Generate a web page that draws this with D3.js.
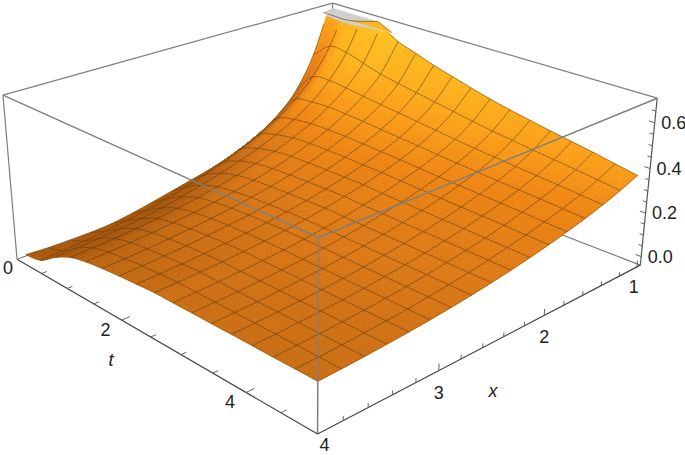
<!DOCTYPE html>
<html><head><meta charset="utf-8">
<style>html,body{margin:0;padding:0;background:#fff}svg{display:block}text{font-family:"Liberation Sans",Arial,sans-serif;fill:#222}</style>
<script src="https://cdn.jsdelivr.net/npm/d3@7"></script></head><body>
<svg id="c" width="685" height="455"></svg>
<script>
// Axis ticks and labels
const tDomain=[0,5], xDomain=[4,0.96], zDomain=[-0.04,0.705];
const tMinorTicks=[0.5,1,1.5,2,2.5,3,3.5,4,4.5];
const tLabels=[0,2,4];
const xMinorTicks=[1,1.2,1.4,1.6,1.8,2,2.2,2.4,2.6,2.8,3,3.2,3.4,3.6,3.8];
const xLabels=[1,2,3,4];
const zMinorTicks=[0,0.05,0.1,0.15,0.2,0.25,0.3,0.35,0.4,0.45,0.5,0.55,0.6,0.65];
const zLabels=[0,0.2,0.4,0.6];
const zClip=0.683;
// Extent of the meshed surface
const surfaceT=[0.2,5], surfaceX=[4,1.1];
// Surface heights at mesh nodes: rows t=0.2..5 (17 rows), columns x=4..1.1 (17 columns)
const surfaceZ=[
[.008,.002,0,.002,.008,.022,.04,.06,.08,.10,.125,.16,.205,.265,.355,.505,.74],
[.022,.028,.036,.046,.06,.075,.095,.118,.145,.175,.21,.25,.30,.365,.45,.575,.76],
[.075,.08,.087,.096,.108,.123,.142,.163,.187,.214,.244,.28,.325,.382,.46,.57,.74],
[.115,.12,.126,.134,.145,.158,.173,.191,.212,.236,.263,.296,.336,.387,.452,.545,.70],
[.135,.14,.146,.154,.164,.175,.188,.204,.223,.245,.271,.302,.338,.384,.44,.52,.65],
[.146,.151,.157,.165,.174,.185,.197,.212,.229,.25,.274,.303,.337,.378,.43,.503,.62],
[.154,.159,.165,.172,.181,.191,.202,.216,.232,.252,.275,.302,.333,.371,.42,.488,.59],
[.16,.165,.17,.177,.185,.194,.205,.219,.235,.254,.275,.30,.329,.364,.41,.473,.565],
[.166,.17,.175,.181,.188,.197,.208,.221,.237,.255,.275,.298,.325,.358,.40,.458,.54],
[.166,.17,.175,.181,.188,.197,.207,.22,.235,.252,.271,.294,.319,.35,.389,.443,.517],
[.167,.171,.175,.181,.188,.196,.207,.219,.233,.25,.268,.29,.314,.344,.38,.429,.497],
[.167,.171,.175,.181,.188,.196,.206,.218,.232,.248,.266,.286,.31,.338,.372,.418,.479],
[.168,.171,.176,.181,.187,.195,.205,.217,.231,.246,.263,.283,.306,.332,.364,.406,.462],
[.168,.171,.176,.181,.187,.195,.205,.216,.229,.244,.261,.28,.302,.327,.357,.396,.446],
[.168,.172,.176,.181,.187,.195,.204,.215,.228,.242,.258,.277,.298,.322,.35,.385,.43],
[.169,.172,.176,.181,.187,.194,.204,.214,.226,.24,.256,.273,.293,.316,.342,.374,.412],
[.169,.172,.176,.181,.187,.194,.203,.213,.225,.238,.253,.27,.289,.31,.334,.362,.395]
];
// Clipped top of the surface, as [t,x] on the clipping plane
const capOutline=[[.02,.97],[.84,.97],[.55,1.11],[.24,1.11],[.08,1.107]];
const capShoulder=[[.84,.97],[1.3,1.1],[.55,1.11]];
// Camera calibration: box corners in the picture, (u,v,w) unit-cube -> pixel
const cameraCorners=[
[0,0,0,17,259],[1,0,0,318,434],[1,1,0,640.5,265],[0,1,0,331,146],
[0,0,1,3,95],[1,0,1,318,238],[1,1,1,657,98],[0,1,1,333,3]];

const tS=d3.scaleLinear().domain(tDomain).range([0,1]);
const xS=d3.scaleLinear().domain(xDomain).range([0,1]);
const zS=d3.scaleLinear().domain(zDomain).range([0,1]);

function fitCamera(c){
  const n=11,A=d3.range(n).map(()=>new Array(n+1).fill(0));
  const add=(r,b)=>{for(let i=0;i<n;i++){for(let j=0;j<n;j++)A[i][j]+=r[i]*r[j];A[i][n]+=r[i]*b;}};
  c.forEach(([u,v,w,x,y])=>{
    add([u,v,w,1,0,0,0,0,-x*u,-x*v,-x*w],x);
    add([0,0,0,0,u,v,w,1,-y*u,-y*v,-y*w],y);
  });
  for(let i=0;i<n;i++){
    let p=i;for(let r=i+1;r<n;r++)if(Math.abs(A[r][i])>Math.abs(A[p][i]))p=r;
    [A[i],A[p]]=[A[p],A[i]];
    for(let r=0;r<n;r++)if(r!==i){const f=A[r][i]/A[i][i];for(let k=i;k<=n;k++)A[r][k]-=f*A[i][k];}
  }
  return d3.range(n).map(i=>A[i][n]/A[i][i]);
}
const P=fitCamera(cameraCorners);
function proj(u,v,w){const d=P[8]*u+P[9]*v+P[10]*w+1;
  return [(P[0]*u+P[1]*v+P[2]*w+P[3])/d,(P[4]*u+P[5]*v+P[6]*w+P[7])/d];}
const pt=(t,x,z)=>proj(tS(t),xS(x),zS(z));

// Smooth evaluation of the mesh-node table for drawing between nodes
const N=surfaceZ.length-1;
const g=(i,j)=>{
  if(i<0)return 2*g(0,j)-g(-i,j);
  if(i>N)return 2*g(N,j)-g(2*N-i,j);
  if(j<0)return 2*g(i,0)-g(i,-j);
  if(j>N)return 2*g(i,N)-g(i,2*N-j);
  return surfaceZ[i][j];};
const cr=(a,b,c,d,f)=>0.5*((2*b)+(-a+c)*f+(2*a-5*b+4*c-d)*f*f+(-a+3*b-3*c+d)*f*f*f);
function Z(si,sj){
  const i=Math.min(Math.floor(si),N-1),j=Math.min(Math.floor(sj),N-1),fi=si-i,fj=sj-j;
  const r=k=>cr(g(i+k,j-1),g(i+k,j),g(i+k,j+1),g(i+k,j+2),fj);
  return cr(r(-1),r(0),r(1),r(2),fi);
}
const ramp=d3.scaleLinear().domain([0,.35,.55,.75,1])
  .range(["#a8570c","#da7715","#ee8512","#fb9f18","#ffc422"]).clamp(true);
function shade(si,sj){
  const e=0.25,gu=(zS(Z(Math.min(si+e,N),sj))-zS(Z(Math.max(si-e,0),sj)))/((Math.min(si+e,N)-Math.max(si-e,0))/N);
  const gv=(zS(Z(si,Math.min(sj+e,N)))-zS(Z(si,Math.max(sj-e,0))))/((Math.min(sj+e,N)-Math.max(sj-e,0))/N);
  const n=Math.sqrt(1+gu*gu+gv*gv);
  return ramp(.14+.5*gv/n-.5*gu/n+.25*zS(Z(si,sj)));
}
const toT=si=>surfaceT[0]+(surfaceT[1]-surfaceT[0])*si/N;
const toX=sj=>surfaceX[0]+(surfaceX[1]-surfaceX[0])*sj/N;
const node=(si,sj)=>{const z=Z(si,sj);return{si,sj,z};};
const P2=n=>pt(toT(n.si),toX(n.sj),Math.min(n.z,zClip));

function clipPoly(poly,keepBelow){
  const inn=p=>keepBelow?p.z<=zClip:p.z>=zClip,out=[];
  poly.forEach((a,k)=>{const b=poly[(k+1)%poly.length];
    if(inn(a))out.push(a);
    if(inn(a)!==inn(b)){const f=(zClip-a.z)/(b.z-a.z);
      out.push({si:a.si+(b.si-a.si)*f,sj:a.sj+(b.sj-a.sj)*f,z:zClip});}
  });return out;
}
const svg=d3.select("#c");
const line=d3.line();
const seg=(a,b,color,w)=>svg.append("path").attr("d",line([a,b])).attr("stroke",color).attr("stroke-width",w).attr("fill","none");
const corner=(u,v,w)=>proj(u,v,w);
const boxColor="#7f7f7f";
// hidden box edges
[[[0,0,1],[0,1,1]],[[0,1,1],[1,1,1]],[[0,0,1],[0,0,0]],[[0,1,0],[0,0,0]],[[0,1,0],[1,1,0]],[[0,1,0],[0,1,1]]]
 .forEach(([a,b])=>seg(corner(...a),corner(...b),boxColor,1.2));
seg(corner(1,1,1),corner(1,1,0),"#555",1.2);

// surface, painted far to near
const SUB=5, h=1/SUB;
const meshColor="rgba(70,45,10,.7)";
for(let a=0;a<N*SUB;a++){
  for(let b=N*SUB-1;b>=0;b--){
    const si=a*h,sj=b*h,s2=(a+1)*h,t2=(b+1)*h;
    const q=[node(si,sj),node(s2,sj),node(s2,t2),node(si,t2)];
    const c=shade(si+h/2,sj+h/2);
    const lo=clipPoly(q,true),hi=clipPoly(q,false);
    if(lo.length>2)svg.append("path").attr("d",line(lo.map(P2))+"Z").attr("fill",c).attr("stroke",c).attr("stroke-width",.6);
    if(hi.length>2)svg.append("path").attr("d",line(hi.map(P2))+"Z").attr("fill","#cfcfcf").attr("stroke","#cfcfcf").attr("stroke-width",.6);
    const drawMesh=(p,r)=>{
      if(Math.max(p.z,r.z)>zClip)return;
      svg.append("path").attr("d",line([P2(p),P2(r)])).attr("stroke",meshColor).attr("stroke-width",.75).attr("fill","none");};
    if(a%SUB===0&&a>0)drawMesh(q[0],q[3]);
    if((b+1)%SUB===0&&b+1<N*SUB)drawMesh(q[3],q[2]);
  }
}
// boundary of the surface
const edge=(f)=>d3.range(0,N*SUB+1).map(k=>f(k*h));
[k=>node(N,k),k=>node(k,0),k=>node(k,N),k=>node(0,k)].forEach(f=>{
  const pts=edge(f).filter(n=>n.z<=zClip).map(P2);
  svg.append("path").attr("d",line(pts)).attr("fill","none").attr("stroke","#9a5a10").attr("stroke-width",.7);
});
// clipped top
const capPt=d=>pt(d[0],d[1],zClip);
svg.append("path").attr("d",line(capShoulder.map(capPt))+"Z").attr("fill","#fdb520");
svg.append("path").attr("d",line(capOutline.map(capPt))+"Z").attr("fill","#cfcfcf");
svg.append("path").attr("d",d3.line().curve(d3.curveCatmullRom)(capOutline.slice(1).map(capPt))).attr("fill","none").attr("stroke","#7a5a20").attr("stroke-width",.8);
seg(capPt(capShoulder[0]),capPt(capShoulder[1]),"#9a7020",.8);
// front box edges over the surface
[[[0,0,1],[1,0,1]],[[1,0,1],[1,1,1]],[[1,0,1],[1,0,0]]].forEach(([a,b])=>seg(corner(...a),corner(...b),boxColor,1.5));
// axes
seg(corner(0,0,0),corner(1,0,0),"#444",1.2);
seg(corner(1,0,0),corner(1,1,0),"#444",1.2);
const tick=(a,b)=>seg(a,b,"#555",.9);
tMinorTicks.forEach(t=>{const L=tLabels.includes(t)?0.022:0.014;
  tick(pt(t,4,zDomain[0]),proj(tS(t),L,0));});
xMinorTicks.forEach(x=>{const L=(xLabels.includes(x))?0.04:0.025;
  tick(pt(5,x,zDomain[0]),proj(1,xS(x),L));});
zMinorTicks.forEach(z=>{const L=(zLabels.includes(z))?0.985:0.99;
  tick(pt(5,xDomain[1],z),proj(L,1,zS(z)));});
// labels
const label=(s,x,y,it)=>svg.append("text").attr("x",x).attr("y",y).attr("text-anchor","middle").attr("dominant-baseline","central")
  .attr("font-size",18).attr("font-style",it?"italic":null).text(s);
tLabels.forEach(t=>{const p=pt(t,4,zDomain[0]);
  const o=t===0?[-9,9]:[-16,10];label(t,p[0]+o[0],p[1]+o[1]);});
xLabels.forEach(x=>{const p=pt(5,x,zDomain[0]);
  const o=x===4?[7,10.5]:x===1?[-3,20]:[0,22];label(x,p[0]+o[0],p[1]+o[1]);});
zLabels.forEach(z=>{const p=pt(5,xDomain[1],z);label(d3.format(".1f")(z),p[0]+19,p[1]);});
label("t",111,360,true);
label("x",493,391,true);
</script></body></html>
